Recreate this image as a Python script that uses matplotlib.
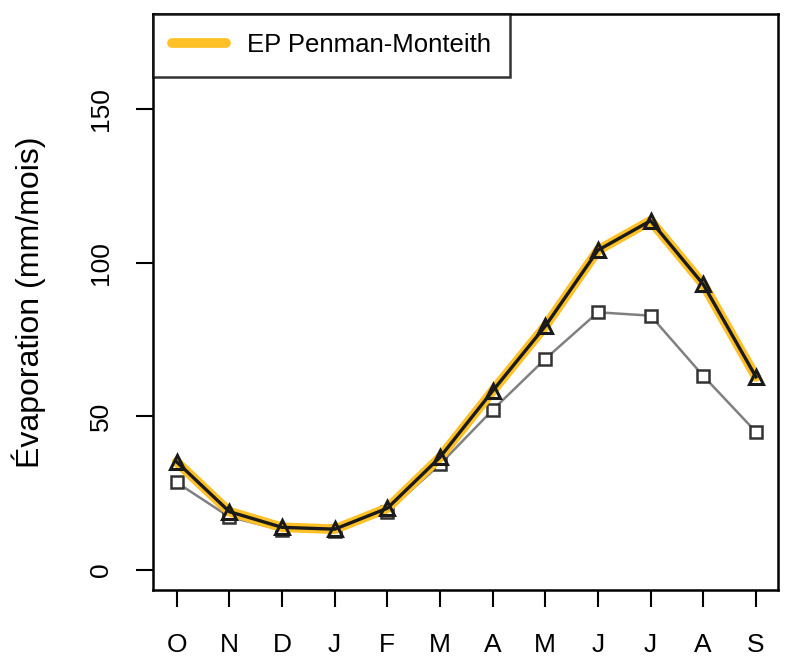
import matplotlib
matplotlib.use("Agg")
import matplotlib.pyplot as plt
from matplotlib.lines import Line2D

plt.rcParams['font.family'] = ['Liberation Sans', 'DejaVu Sans']

months = ['O', 'N', 'D', 'J', 'F', 'M', 'A', 'M', 'J', 'J', 'A', 'S']
ep_pm = [35.2, 19.0, 13.9, 13.3, 20.1, 36.7, 58.3, 79.4, 104.1, 113.7, 93.0, 62.9]
ep_other = [28.5, 17.3, 13.0, 12.7, 19.0, 34.4, 52.1, 68.7, 83.9, 82.8, 63.2, 45.0]
yticks = [0, 50, 100, 150]
legend_label = 'EP Penman-Monteith'

orange = '#FFC125'
x = list(range(1, len(months) + 1))

fig = plt.figure(figsize=(7.88, 6.63), dpi=100)
ax = fig.add_axes([153/788, 1 - 590/663, (778-153)/788, (590-14)/663])

ax.plot(x, ep_other, color='#808080', lw=1.8, zorder=2)
ax.plot(x, ep_other, ls='none', marker='s', ms=9, mfc='white', mec='#333333', mew=1.8, zorder=3)

ax.plot(x, ep_pm, color=orange, lw=7, solid_capstyle='round', solid_joinstyle='round', zorder=4)
ax.plot(x, ep_pm, color='#1a1a1a', lw=2.4, zorder=5)
ax.plot(x, ep_pm, ls='none', marker='^', ms=10.5, mfc='none', mec='#1a1a1a', mew=2.2, zorder=6)

ax.set_xlim(0.55, 12.42)
ax.set_ylim(-6.5, 181)
ax.set_xticks(x)
ax.set_xticklabels(months, fontsize=19)
ax.set_yticks(yticks)
ax.set_yticklabels([str(v) for v in yticks], rotation=90, va='center', fontsize=19)
ax.tick_params(axis='both', length=12, width=1.5, color='black')
ax.tick_params(axis='x', pad=19)
ax.tick_params(axis='y', pad=17)
for s in ax.spines.values():
    s.set_linewidth(1.8)
ax.set_ylabel('Évaporation (mm/mois)', fontsize=23, labelpad=31)

handle = Line2D([], [], color=orange, lw=7, solid_capstyle='round')
leg = ax.legend([handle], [legend_label], loc='upper left', fontsize=18.5,
                frameon=True, fancybox=False, borderaxespad=0, borderpad=0.75,
                handlelength=2.1, handletextpad=0.8)
leg.get_frame().set_edgecolor('black')
leg.get_frame().set_linewidth(1.8)

fig.savefig('out.png', dpi=100)
